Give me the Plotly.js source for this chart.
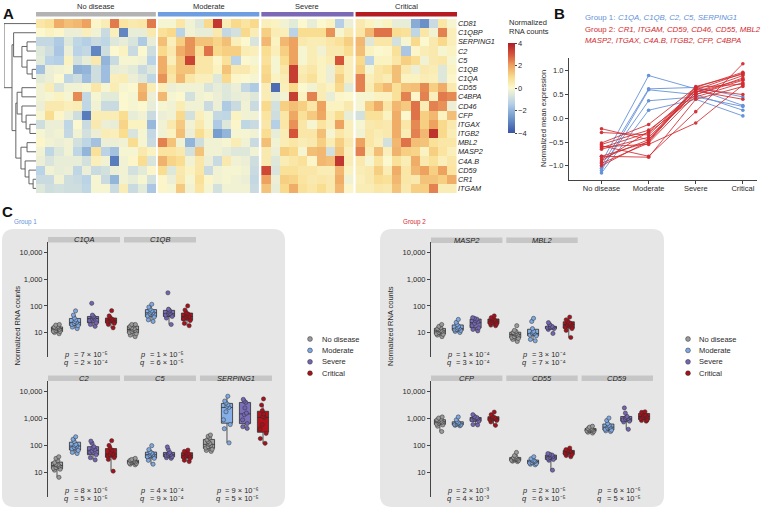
<!DOCTYPE html>
<html>
<head>
<meta charset="utf-8">
<script src="https://cdn.plot.ly/plotly-3.0.1.min.js"></script>
<style>
  html, body { margin: 0; padding: 0; background: #fff; }
  #fig { width: 777px; height: 509px; }
</style>
</head>
<body>
<div id="fig"></div>
<script>
// ---------- data ----------
var GENES = ["CD81", "C1QBP", "SERPING1", "C2", "C5", "C1QB", "C1QA", "CD55", "C4BPA", "CD46",
             "CFP", "ITGAX", "ITGB2", "MBL2", "MASP2", "C4A.B", "CD59", "CR1", "ITGAM"];
var STAGES = ["No disease", "Moderate", "Severe", "Critical"];

// heatmap, one row per gene (same order as GENES), one column per sample
var HEAT_ND = [
  [0.6, 0.8, 1.8, 1.5, 1.6, 2.0, 0.1, 0.4, 2.5, 0.7, 0.5, 0.6, 2.5],
  [0.0, 0.2, 0.1, -0.3, -0.3, 0.3, -0.2, -1.0, 0.3, -3.0, -0.4, -0.4, 0.5],
  [-1.1, -1.1, -1.5, -0.6, -1.2, -1.4, -1.0, -1.2, -0.6, -0.4, -0.7, -1.5, -0.4],
  [-0.6, -0.9, -1.6, -0.3, -1.3, -1.1, -3.0, -0.9, 0.0, 0.2, -1.0, 0.0, -0.9],
  [-0.5, -1.3, -1.4, 0.2, -0.8, -0.4, 0.5, -2.0, -1.0, -0.1, -0.1, -0.2, -1.3],
  [-1.7, -0.3, -0.2, -0.1, -2.1, -2.0, -0.9, -1.8, -0.4, -0.3, -0.5, -1.0, -0.6],
  [-0.5, -0.3, 0.0, -1.2, -0.9, -1.8, -0.9, -1.8, 0.3, 0.4, -0.3, -0.6, -1.2],
  [-0.2, 0.4, -0.7, -0.2, -0.2, -0.1, 0.6, -0.1, 0.4, -0.1, 0.0, 1.6, 0.4],
  [-0.2, -0.1, 0.2, -0.1, 2.3, -1.1, -0.1, -0.5, -0.5, 0.0, -0.1, 1.8, -0.3],
  [-0.3, 0.5, 0.5, 0.3, 0.4, -1.2, -0.2, -1.0, -1.0, 0.0, -0.1, 0.0, -0.4],
  [-0.1, 0.9, 0.1, -0.3, -0.9, -3.2, 0.4, 0.4, 0.4, 0.9, -0.4, -0.2, -1.0],
  [-0.9, -0.3, -0.3, -1.2, 0.0, -1.0, 0.5, -0.3, -0.4, 1.1, 0.2, 0.2, -1.9],
  [-0.1, -0.3, -0.2, -1.1, -0.2, -0.8, -0.3, 0.4, 0.3, 0.9, -0.7, -0.1, -1.1],
  [0.1, -0.2, -0.3, -0.2, -0.8, -1.2, -1.7, -0.3, -0.3, -0.2, 0.9, -0.1, -1.0],
  [-0.2, -1.2, -0.6, -0.2, -1.2, -2.0, 0.8, -1.3, -1.7, -0.1, -0.1, 0.5, 0.2],
  [-0.3, -0.7, -0.4, -0.4, -0.4, -0.8, 0.3, -0.2, -3.2, -0.2, 0.1, 0.9, -0.7],
  [-1.3, -0.2, -0.4, -0.3, -1.2, -0.3, -1.0, -0.8, -0.3, -0.2, -0.8, -0.5, 0.1],
  [-1.0, -1.0, -0.2, -0.9, -1.0, -1.3, -0.1, -1.0, -2.0, -0.2, -0.4, -0.1, -0.8],
  [-0.6, -0.9, -0.8, -0.9, -0.9, -1.2, -0.1, -0.1, -1.0, 0.4, -1.0, -0.5, -1.6]
];
var HEAT_MOD = [
  [-0.1, -0.1, 0.6, -0.2, -0.6, 1.0, 3.5, 0.4, 1.0, 0.7, 1.0],
  [0.8, 1.0, -1.3, -0.2, -0.4, -0.4, 0.5, -1.1, -0.8, 1.0, 0.4],
  [1.5, 0.3, 1.2, 2.2, 1.4, 1.4, 1.1, 1.5, 0.3, 0.0, -0.7],
  [1.0, 0.5, 1.8, 2.2, 0.8, 2.6, 1.0, 1.2, 1.2, 0.4, 0.3],
  [1.8, 0.3, 1.4, 3.3, 0.6, 0.6, 0.1, 0.8, -1.3, 0.0, -0.1],
  [1.8, 0.8, 1.4, 1.4, 0.6, 0.6, 0.2, 1.4, 0.5, 0.5, 0.2],
  [2.2, 0.6, 1.6, 0.6, 0.3, 0.3, -0.6, 1.0, 0.1, 0.0, -0.1],
  [0.3, -0.3, -0.2, -0.2, -0.2, -0.7, -0.4, -0.6, -0.3, -1.1, -1.5],
  [1.6, -0.1, 0.0, -0.8, -0.2, -0.1, -0.3, -0.6, -0.4, -0.3, -0.6],
  [-0.1, -0.2, 0.4, -0.2, -0.2, -1.0, -0.3, -1.5, -1.0, -0.2, -1.0],
  [-0.3, -0.2, 1.0, -0.8, 0.3, -0.1, -1.1, -1.2, 0.2, -0.2, -0.2],
  [-0.2, 0.5, 1.3, -0.2, 0.5, -0.1, -1.5, -0.6, 0.1, -1.2, -1.0],
  [-0.2, 0.2, 1.5, -0.3, 0.9, 0.3, -2.5, -2.0, -0.1, -0.1, -0.2],
  [2.4, 1.4, -0.2, -2.0, -0.9, -0.2, -0.2, -0.1, 0.4, -0.2, -1.0],
  [0.7, 0.7, 0.5, -0.8, 1.4, -0.2, -0.2, -0.4, -0.6, -0.6, -0.2],
  [1.7, 1.1, 0.9, -0.2, 0.6, -0.3, -1.0, 0.5, -0.2, -0.3, -0.9],
  [0.9, -0.6, 0.5, 0.2, 0.6, -1.0, -0.2, -0.1, -0.1, -0.2, -1.0],
  [0.1, -0.3, 0.6, -0.1, 0.8, 0.1, -0.2, -0.1, -0.2, -0.3, -1.1],
  [0.1, -0.1, 1.3, -0.2, 0.7, -0.1, -0.8, -0.2, -0.2, -0.2, -1.0]
];
var HEAT_SEV = [
  [0.3, 0.2, -0.2, -0.5, 0.0, -0.4, 0.0, 0.2, -1.4, -0.3],
  [1.2, 0.4, 0.3, -1.3, 0.9, 0.9, 0.9, 2.2, -0.1, 0.5],
  [1.6, 0.2, 1.6, 2.0, 0.5, 0.4, 0.4, 0.6, 0.8, 1.2],
  [0.9, 0.3, 1.2, 2.0, -0.1, 0.4, -0.2, 0.5, 0.5, 0.9],
  [0.8, -0.1, 0.9, 2.0, -0.1, 0.4, 0.2, 0.4, 3.0, 0.3],
  [1.0, -0.1, 0.6, 3.4, 0.4, 0.6, 0.2, -0.3, 0.8, 0.3],
  [1.1, 0.2, 0.4, 3.4, 0.5, 0.8, 0.2, -0.3, 1.2, 0.3],
  [0.4, -3.5, 0.3, 1.0, 0.0, -0.2, 0.4, 0.2, 1.0, -0.5],
  [0.4, -0.4, -0.2, 3.4, 0.2, 2.4, 0.4, -0.4, 0.1, 0.0],
  [1.0, -0.8, 1.2, 1.5, 1.2, 0.6, 2.0, 0.2, 0.2, 0.5],
  [0.7, -0.9, 0.6, 1.9, 0.8, 1.3, 1.9, 0.4, 0.9, -0.4],
  [0.6, -1.4, 0.6, 2.2, 0.6, -0.1, 0.7, 0.3, 2.0, 0.3],
  [0.9, -0.4, 0.4, 3.0, 0.6, 0.6, 1.5, -0.1, 0.6, 0.3],
  [1.5, -0.2, 0.4, 0.6, 0.4, 0.5, 1.2, 0.4, 1.2, 0.5],
  [0.5, -0.3, 1.2, 1.0, -0.1, 1.5, 1.6, -0.8, 1.4, 0.3],
  [0.5, -0.6, 0.4, 0.6, 0.8, 0.1, 1.6, 1.5, 3.5, 0.4],
  [3.2, -0.7, 0.8, 0.8, 0.6, 0.6, 0.4, 0.4, 1.6, 0.2],
  [2.0, -0.3, 1.2, 1.1, 0.7, 0.5, 0.6, 0.5, 1.8, -0.2],
  [1.4, -0.4, 1.0, 1.8, 0.8, 0.6, 0.9, 0.5, 1.6, 0.1]
];
var HEAT_CRIT = [
  [0.5, 0.2, -0.1, 0.2, -0.4, -0.4, -2.2, -2.8, -1.0, 0.6, -0.1],
  [0.6, 1.6, 2.6, 2.6, 0.9, 0.8, -1.2, 0.6, -0.2, 2.4, 0.3],
  [1.6, -0.6, 0.6, 0.6, -0.8, -0.1, 1.0, 0.0, 0.5, 1.0, 0.3],
  [1.5, 0.2, 0.0, 0.1, 0.8, -1.6, 0.1, 0.4, 0.5, -0.1, 0.2],
  [1.0, -1.3, 0.2, 0.2, 0.6, 1.2, 0.9, -0.2, 0.5, 0.6, -0.1],
  [1.2, -0.1, 0.6, 0.8, 1.5, 0.5, -0.3, 0.5, 0.4, -0.6, 0.2],
  [2.4, 0.3, 0.6, 0.4, 1.5, 0.2, 0.2, 0.4, 0.3, -0.6, 0.1],
  [2.4, 0.4, 1.2, 1.6, 0.8, 1.4, 1.5, 2.3, 1.2, 1.8, 0.5],
  [-0.1, -0.1, 0.2, 0.2, 0.8, 2.4, 0.1, 2.4, 0.3, 2.5, 2.3],
  [-0.1, 1.2, 1.8, 0.6, 1.6, 1.3, 2.6, 0.4, 2.4, 2.2, -0.3],
  [-0.8, 0.8, 0.8, 0.2, 1.8, 0.0, 2.6, 1.2, 1.6, 0.2, 1.5],
  [-0.1, 0.5, 0.6, 0.5, 1.8, 0.6, 2.3, 1.2, 2.0, 1.0, 0.5],
  [-0.2, 0.6, 0.4, 0.5, 1.8, 0.4, 2.4, 1.6, 3.6, 1.0, 0.4],
  [2.0, 0.6, 0.3, -0.8, 1.6, 2.6, 1.5, 1.4, 0.8, 0.6, 0.6],
  [2.4, 0.4, 1.5, 0.3, 1.7, 1.2, 1.1, 0.2, 1.2, 0.7, 0.3],
  [0.5, -0.1, 0.7, 0.0, 0.8, 0.4, 1.8, 0.5, 0.8, 0.3, 0.6],
  [0.4, 0.5, 1.2, 0.4, 1.8, 0.6, 1.6, 2.0, 1.2, 2.0, 0.7],
  [0.3, 0.5, 0.9, 0.8, 1.6, 0.6, 0.5, 1.4, 1.4, 1.2, 1.8],
  [0.4, 0.4, 0.6, 0.5, 1.4, 0.5, 1.2, 1.2, 2.4, 0.4, 0.4]
];

// row dendrogram: [height, left, right], leaves are row indexes
var DENDRO = [1.0, 0, [0.75,
  [0.70, 1, [0.44, [0.28, 2, 3], [0.28, 4, [0.12, 5, 6]]]],
  [0.63, [0.59, [0.44, 7, 8], [0.44, 9, [0.31, 10, [0.19, 11, 12]]]],
         [0.47, [0.28, 13, 14], [0.34, 15, [0.22, 16, [0.09, 17, 18]]]]]]];

// panel B: normalized mean expression per gene across stages
var MEAN_G1 = [
  [-0.93, 0.90, 0.62, 0.27],
  [-1.00, 0.62, 0.65, 0.45],
  [-1.10, 0.60, 0.50, 0.17],
  [-1.05, 0.37, 0.45, 0.25],
  [-1.15, 0.17, 0.40, 0.05]
];
var MEAN_G2 = [
  [-0.22, -0.45, 0.55, 0.82],
  [-0.30, -0.35, 0.60, 0.95],
  [-0.52, -0.13, 0.65, 0.97],
  [-0.55, -0.25, 0.50, 0.80],
  [-0.58, -0.80, 0.14, 1.15],
  [-0.60, -0.55, -0.10, 0.70],
  [-0.62, -0.30, 0.45, 0.75],
  [-0.65, -0.40, 0.55, 0.90],
  [-0.80, -0.50, 0.62, 0.50],
  [-0.80, -0.82, 0.40, 0.67],
  [-0.85, -0.45, 0.67, 0.93],
  [-0.90, -0.28, 0.58, 0.40],
  [-0.95, -0.52, 0.50, 0.85],
  [-1.00, -0.48, 0.65, 0.72]
];

// panel C: normalized RNA counts per sample, [no disease, moderate, severe, critical]
var C1QA = [[9, 10, 11, 11, 12, 13, 14, 15, 15, 16, 17, 19, 20],
            [14, 16, 18, 20, 22, 24, 26, 30, 35, 45, 65],
            [17, 20, 23, 28, 32, 35, 38, 40, 45, 125],
            [15, 20, 22, 25, 27, 28, 30, 32, 36, 42, 66]];
var C1QB = [[7, 8, 9, 10, 11, 12, 13, 14, 15, 17, 19, 20, 20],
            [26, 30, 38, 42, 50, 55, 58, 65, 75, 90, 115],
            [20, 35, 40, 45, 50, 52, 60, 68, 75, 310],
            [18, 22, 28, 32, 38, 40, 45, 50, 55, 70, 100]];
var C2 = [[6.5, 12, 13, 14, 15, 17, 18, 19, 20, 23, 27, 33, 38],
          [50, 55, 65, 75, 85, 95, 100, 110, 140, 170, 210],
          [29, 35, 45, 55, 62, 70, 80, 90, 120, 145],
          [11, 30, 35, 40, 45, 48, 55, 65, 80, 100, 150]];
var C5 = [[19, 20, 21, 22, 23, 24, 25, 26, 27, 28, 29, 30, 33],
          [20, 28, 33, 38, 42, 45, 48, 52, 58, 70, 98],
          [33, 35, 38, 42, 44, 46, 50, 55, 70, 88],
          [25, 28, 33, 36, 40, 42, 45, 50, 55, 60, 67]];
var SERPING1 = [[60, 65, 72, 80, 90, 100, 110, 120, 140, 160, 190, 220, 245],
                [125, 420, 600, 900, 1800, 2600, 2900, 3300, 3800, 4500, 6800],
                [430, 500, 650, 900, 1400, 1600, 2500, 4000, 4500, 5200],
                [120, 180, 280, 400, 600, 1100, 1200, 1500, 2000, 3200, 5400]];
var MASP2 = [[7, 8, 8.5, 9, 10, 11, 11.5, 12, 13, 14, 15, 17, 20],
             [10, 11, 12, 12.5, 13, 14, 15, 17, 20, 24, 31],
             [11.5, 13, 15, 18, 22, 25, 28, 32, 34, 36],
             [18, 19, 21, 23, 24, 26, 28, 30, 33, 36, 42]];
var MBL2 = [[4.6, 5.5, 6, 6.5, 7, 8, 8.5, 9, 9.5, 10, 11, 12, 18],
            [4.9, 5.5, 7.5, 8, 9, 9.2, 10, 11, 14, 26, 34],
            [9.2, 13, 14, 15, 15.3, 15.5, 16, 17, 20, 23.5],
            [6.5, 12, 14, 16, 19, 20, 21, 23, 26, 30, 38]];
var CFP = [[330, 520, 580, 620, 680, 720, 760, 800, 850, 900, 950, 1050, 1150],
           [540, 560, 580, 600, 620, 640, 660, 700, 780, 900, 1150],
           [580, 600, 800, 900, 950, 1000, 1050, 1100, 1200, 1400],
           [560, 750, 850, 900, 950, 1000, 1050, 1100, 1200, 1400, 1750]];
var CD55 = [[25, 26, 27, 28, 29, 30, 31, 32, 33, 35, 38, 42, 55],
            [19, 20, 21, 22, 23, 25, 26, 27, 29, 32, 38],
            [12, 28, 30, 33, 36, 38, 41, 44, 47, 50],
            [38, 42, 46, 50, 55, 58, 60, 63, 66, 70, 80]];
var CD59 = [[290, 310, 330, 345, 360, 370, 380, 390, 400, 420, 440, 480, 520],
            [330, 350, 370, 400, 450, 480, 520, 560, 650, 850, 1050],
            [400, 750, 800, 900, 950, 1000, 1100, 1200, 1600, 2500],
            [800, 850, 900, 1000, 1100, 1200, 1300, 1400, 1600, 1700, 1800]];

// p and q values as [mantissa, exponent]
var PQ_C1QA = [[7, -5], [2, -4]];
var PQ_C1QB = [[1, -5], [6, -5]];
var PQ_C2 = [[8, -6], [5, -5]];
var PQ_C5 = [[4, -4], [9, -4]];
var PQ_SERPING1 = [[9, -6], [5, -5]];
var PQ_MASP2 = [[1, -4], [3, -4]];
var PQ_MBL2 = [[3, -4], [7, -4]];
var PQ_CFP = [[2, -3], [4, -3]];
var PQ_CD55 = [[2, -5], [6, -5]];
var PQ_CD59 = [[6, -6], [5, -5]];

var G1_TOP = ["C1QA", "C1QB"], G1_BOT = ["C2", "C5", "SERPING1"];
var G2_TOP = ["MASP2", "MBL2"], G2_BOT = ["CFP", "CD55", "CD59"];

// ---------- helpers / styles ----------
var W = 777, H = 509;
function X(p) { return p / W; }
function Y(p) { return 1 - p / H; }
var FONT = "Liberation Sans, Arial, sans-serif";
var TXT = "#2a2a2a";
var FS = 7.5;
var STAGE_BAR = ["#b3b3b3", "#6e9ee0", "#7b69b6", "#b51b20"];
var BOX_FILL = ["#a3a3a3", "#85afe6", "#7d70ba", "#b0131b"];
var PT_COL = ["#9a9a9a", "#7ea8e2", "#7365b2", "#a8101a"];
var BLUE = "#6592d8", RED = "#d22b30";
var SUP = { "-": "⁻", "0": "⁰", "1": "¹", "2": "²", "3": "³", "4": "⁴", "5": "⁵", "6": "⁶", "7": "⁷", "8": "⁸", "9": "⁹" };

var traces = [], shapes = [], annotations = [];
function font(o) { return Object.assign({ family: FONT, size: FS, color: TXT }, o || {}); }
function ann(o) {
  var a = Object.assign({ showarrow: false, xref: "paper", yref: "paper" }, o);
  a.font = font(o.font);
  annotations.push(a);
}

// ---------- A: heatmap ----------
var GAP = 0.22;
var HEAT = [HEAT_ND, HEAT_MOD, HEAT_SEV, HEAT_CRIT];
var rowIdx = GENES.map(function (g, i) { return i; });
var start = 0, spans = [];
HEAT.forEach(function (m) {
  var n = m[0].length;
  traces.push({ type: "heatmap", z: m, y: rowIdx,
    x: m[0].map(function (v, i) { return start + i; }),
    coloraxis: "coloraxis", xaxis: "x", yaxis: "y", hoverinfo: "skip" });
  spans.push([start - 0.5, start + n - 0.5]);
  start += n + GAP;
});
var heatMaxX = start - GAP - 0.5;

spans.forEach(function (s, k) {
  shapes.push({ type: "rect", xref: "x", yref: "paper", x0: s[0], x1: s[1],
    y0: Y(16.5), y1: Y(12), fillcolor: STAGE_BAR[k], line: { width: 0 } });
  ann({ xref: "x", x: (s[0] + s[1]) / 2, y: Y(6.5), yanchor: "middle", text: STAGES[k] });
});

// dendrogram
var dx = [], dy = [];
function walk(node) {
  if (typeof node === "number") return { y: node, h: 0 };
  var l = walk(node[1]), r = walk(node[2]), h = node[0];
  dx.push(l.h, h, h, r.h, null);
  dy.push(l.y, l.y, r.y, r.y, null);
  return { y: (l.y + r.y) / 2, h: h };
}
walk(DENDRO);
traces.push({ type: "scatter", mode: "lines", x: dx, y: dy, xaxis: "x2", yaxis: "y",
  line: { color: "#555", width: 0.9 }, hoverinfo: "skip", connectgaps: false });

ann({ x: X(507), y: Y(22), xanchor: "left", yanchor: "middle", text: "Normalized" });
ann({ x: X(507), y: Y(31.5), xanchor: "left", yanchor: "middle", text: "RNA counts" });

// ---------- B: mean expression ----------
MEAN_G1.forEach(function (v) {
  traces.push({ type: "scatter", mode: "lines+markers", x: [0, 1, 2, 3], y: v,
    xaxis: "x3", yaxis: "y3", line: { color: BLUE, width: 0.9 },
    marker: { color: BLUE, size: 3.6 }, hoverinfo: "skip" });
});
MEAN_G2.forEach(function (v) {
  traces.push({ type: "scatter", mode: "lines+markers", x: [0, 1, 2, 3], y: v,
    xaxis: "x3", yaxis: "y3", line: { color: RED, width: 0.9 },
    marker: { color: RED, size: 3.6 }, hoverinfo: "skip", opacity: 0.95 });
});
ann({ x: X(583), y: Y(17), xanchor: "left", yanchor: "middle", text: "Group 1:", font: { size: 7.8, color: BLUE } });
ann({ x: X(583), xshift: 33, y: Y(17), xanchor: "left", yanchor: "middle",
  text: "C1QA, C1QB, C2, C5, SERPING1", font: { size: 7.8, color: BLUE, style: "italic" } });
ann({ x: X(583), y: Y(30), xanchor: "left", yanchor: "middle", text: "Group 2:", font: { size: 7.8, color: RED } });
ann({ x: X(583), xshift: 33, y: Y(30), xanchor: "left", yanchor: "middle",
  text: "CR1, ITGAM, CD59, CD46, CD55, MBL2", font: { size: 7.8, color: RED, style: "italic" } });
ann({ x: X(583), y: Y(40), xanchor: "left", yanchor: "middle",
  text: "MASP2, ITGAX, C4A.B, ITGB2, CFP, C4BPA", font: { size: 7.8, color: RED, style: "italic" } });
ann({ x: X(543), y: Y(119), textangle: -90, xanchor: "center", yanchor: "middle",
  text: "Normalized mean expression" });

// ---------- C: box plots ----------
var BOXDATA = { C1QA: C1QA, C1QB: C1QB, C2: C2, C5: C5, SERPING1: SERPING1,
                MASP2: MASP2, MBL2: MBL2, CFP: CFP, CD55: CD55, CD59: CD59 };
var PQ = { C1QA: PQ_C1QA, C1QB: PQ_C1QB, C2: PQ_C2, C5: PQ_C5, SERPING1: PQ_SERPING1,
           MASP2: PQ_MASP2, MBL2: PQ_MBL2, CFP: PQ_CFP, CD55: PQ_CD55, CD59: PQ_CD59 };
var S = 4.22;   // facet pitch in x units
var ROWS = [
  { genes: G1_TOP, ax: "4", x0: 48, x1: 272, top: 242, bot: 357, strip: [237, 242.5], p: 354, q: 362.5 },
  { genes: G1_BOT, ax: "5", x0: 48, x1: 272, top: 381, bot: 497, strip: [375.5, 381], p: 490, q: 498.5 },
  { genes: G2_TOP, ax: "6", x0: 431, x1: 653, top: 242, bot: 357, strip: [237.5, 243], p: 354, q: 362.5 },
  { genes: G2_BOT, ax: "7", x0: 431, x1: 653, top: 381, bot: 497, strip: [375.5, 381], p: 490, q: 498.5 }
];
function sci(m) {
  return m[0] + " × 10" + String(m[1]).split("").map(function (c) { return SUP[c]; }).join("");
}

function roundRect(x0, y0, x1, y1, r) {
  function P(x, y) { return X(x) + "," + Y(y); }
  return "M" + P(x0 + r, y0) + " L" + P(x1 - r, y0) + " Q" + P(x1, y0) + " " + P(x1, y0 + r) +
    " L" + P(x1, y1 - r) + " Q" + P(x1, y1) + " " + P(x1 - r, y1) +
    " L" + P(x0 + r, y1) + " Q" + P(x0, y1) + " " + P(x0, y1 - r) +
    " L" + P(x0, y0 + r) + " Q" + P(x0, y0) + " " + P(x0 + r, y0) + " Z";
}
shapes.unshift({ type: "path", xref: "paper", yref: "paper", layer: "below",
  path: roundRect(2, 229, 285, 507, 12), fillcolor: "#e6e6e6", line: { width: 0 } });
shapes.unshift({ type: "path", xref: "paper", yref: "paper", layer: "below",
  path: roundRect(380, 229, 664, 507, 12), fillcolor: "#e6e6e6", line: { width: 0 } });

var layoutAxes = {};
ROWS.forEach(function (row) {
  var xa = "x" + row.ax, ya = "y" + row.ax;
  layoutAxes["xaxis" + row.ax] = { domain: [X(row.x0), X(row.x1)], range: [-0.5, 2 * S + 3.5],
    anchor: ya, visible: false, fixedrange: true };
  layoutAxes["yaxis" + row.ax] = { domain: [Y(row.bot), Y(row.top)], anchor: xa, type: "log",
    range: [0.08, 4.4], tickvals: [10, 100, 1000, 10000], ticktext: ["10", "100", "1,000", "10,000"],
    showline: true, linecolor: "#444", linewidth: 1, ticks: "outside", ticklen: 3, tickcolor: "#444",
    tickfont: font(), showgrid: false, zeroline: false };
  row.genes.forEach(function (g, f) {
    var c = f * S;
    shapes.push({ type: "rect", xref: xa, yref: "paper", x0: c - 0.5, x1: c + 3.5,
      y0: Y(row.strip[1]), y1: Y(row.strip[0]), fillcolor: "#c6c6c6", line: { width: 0 }, layer: "below" });
    ann({ xref: xa, x: c + 1.5, y: Y((row.strip[0] + row.strip[1]) / 2), yanchor: "middle",
      text: g, font: { color: "#222", style: "italic" } });
    [["p", PQ[g][0], row.p], ["q", PQ[g][1], row.q]].forEach(function (t) {
      ann({ xref: xa, x: c + 1.5, xshift: -14, y: Y(t[2]), xanchor: "right", yanchor: "middle",
        borderpad: 0, text: t[0], font: { style: "italic" } });
      ann({ xref: xa, x: c + 1.5, xshift: -11.5, y: Y(t[2]), xanchor: "left", yanchor: "middle",
        borderpad: 0, text: "= " + sci(t[1]) });
    });
    BOXDATA[g].forEach(function (vals, k) {
      traces.push({ type: "box", xaxis: xa, yaxis: ya, y: vals,
        x: vals.map(function () { return c + k; }), width: 0.62,
        fillcolor: BOX_FILL[k], line: { color: "#2e2e2e", width: 0.8 }, whiskerwidth: 0,
        boxpoints: "all", jitter: 0.75, pointpos: 0,
        marker: { color: PT_COL[k], size: 4.2, line: { color: "#2e2e2e", width: 0.5 } },
        hoverinfo: "skip" });
    });
  });
});

// legends (one per panel)
[[310, 320], [688, 697]].forEach(function (pos) {
  STAGES.forEach(function (s, k) {
    var cy = 339 + k * 11.4;
    shapes.push({ type: "circle", xref: "paper", yref: "paper",
      x0: X(pos[0] - 2.4), x1: X(pos[0] + 2.4), y0: Y(cy + 2.4), y1: Y(cy - 2.4),
      fillcolor: PT_COL[k], line: { color: "#2e2e2e", width: 0.5 } });
    ann({ x: X(pos[1]), y: Y(cy), xanchor: "left", yanchor: "middle", text: s });
  });
});

ann({ x: X(12), y: Y(222), xanchor: "left", yanchor: "middle", text: "Group 1", font: { size: 6.3, color: BLUE } });
ann({ x: X(401), y: Y(222), xanchor: "left", yanchor: "middle", text: "Group 2", font: { size: 6.3, color: RED } });
ann({ x: X(10), y: Y(368), textangle: -90, text: "Normalized RNA counts" });
ann({ x: X(390), y: Y(368), textangle: -90, text: "Normalized RNA counts" });

// panel letters
var LETTER = { size: 15, color: "#111", weight: "bold" };
ann({ x: X(1), y: Y(3), xanchor: "left", yanchor: "top", text: "A", font: LETTER });
ann({ x: X(552), y: Y(3), xanchor: "left", yanchor: "top", text: "B", font: LETTER });
ann({ x: X(0), y: Y(201), xanchor: "left", yanchor: "top", text: "C", font: LETTER });

// ---------- layout ----------
var layout = Object.assign({
  width: W, height: H,
  margin: { l: 0, r: 0, t: 0, b: 0 },
  paper_bgcolor: "#fff", plot_bgcolor: "rgba(0,0,0,0)",
  font: font(),
  showlegend: false,
  boxmode: "overlay",
  xaxis: { domain: [X(36), X(457)], range: [-0.5, heatMaxX], anchor: "y", visible: false },
  yaxis: { domain: [Y(193), Y(19)], range: [18.5, -0.5], anchor: "x", side: "right",
    tickvals: rowIdx, ticktext: GENES, ticks: "", showgrid: false, zeroline: false, showline: false,
    tickfont: font({ size: 7.3, color: "#222", style: "italic" }) },
  xaxis2: { domain: [X(4), X(36)], range: [1, 0], anchor: "y", visible: false },
  xaxis3: { domain: [X(569), X(757)], range: [-0.69, 3.3], anchor: "y3",
    tickvals: [0, 1, 2, 3], ticktext: STAGES, showline: true, linecolor: "#444", linewidth: 1,
    ticks: "outside", ticklen: 3, tickcolor: "#444", showgrid: false, zeroline: false,
    ticklabelstandoff: -2, tickfont: font() },
  yaxis3: { domain: [Y(180), Y(58)], range: [-1.30, 1.27], anchor: "x3",
    tickvals: [-1, -0.5, 0, 0.5, 1], ticktext: ["−1.0", "−0.5", "0.0", "0.5", "1.0"],
    showline: true, linecolor: "#444", linewidth: 1, ticks: "outside", ticklen: 3, tickcolor: "#444",
    showgrid: false, zeroline: false, tickfont: font() },
  coloraxis: { cmin: -4, cmax: 4,
    colorscale: [[0, "#3953a5"], [0.17, "#7098cc"], [0.33, "#b7d1e7"], [0.5, "#fbf8d0"],
                 [0.62, "#f9dc8e"], [0.75, "#eda25f"], [0.87, "#d6553a"], [1, "#b01d26"]],
    colorbar: { x: X(508), xanchor: "left", y: Y(88), yanchor: "middle", len: 90 / H, lenmode: "fraction",
      thickness: 7, thicknessmode: "pixels", xpad: 0, ypad: 0, outlinewidth: 0,
      tickvals: [-4, -2, 0, 2, 4], ticks: "outside", ticklen: 2, tickcolor: "#444",
      tickfont: font() } },
  shapes: shapes,
  annotations: annotations
}, layoutAxes);

Plotly.newPlot("fig", traces, layout, { displayModeBar: false, staticPlot: true });
</script>
</body>
</html>
